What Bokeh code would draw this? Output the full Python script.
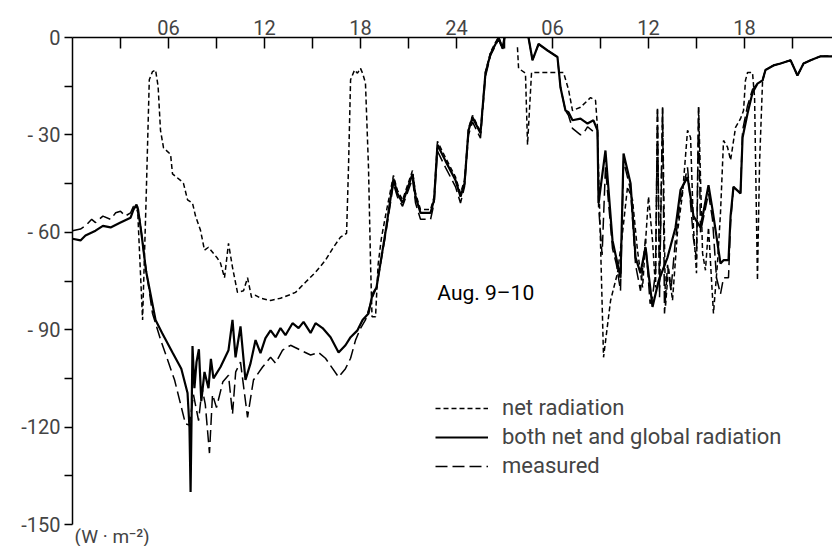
import math
from bokeh.plotting import figure
from bokeh.models import FixedTicker, LinearAxis, Label, Legend, LegendItem, Range1d, Title
from bokeh.embed import file_html
from bokeh.resources import INLINE

NAN = float("nan")

# ---- data (hours from 00 on Aug. 9, W m^-2) ----
both_t = [0, 0.5, 0.81, 1.44, 1.9, 2.38, 3.0, 3.63, 3.81, 4.0, 4.1, 4.3, 4.6, 5.19, 5.6, 6.25, 6.8,
          7.19, 7.31, 7.38, 7.5, 7.62, 7.75, 7.9, 8.05, 8.25, 8.5, 8.65, 8.81, 9.25, 9.75, 10.0,
          10.19, 10.5, 10.81, 11.13, 11.44, 11.75, 12.06, 12.38, 12.69, 13.0, 13.31, 13.75, 14.13,
          14.44, 14.88, 15.19, 15.63, 16.13, 16.63, 17.06, 17.38, 17.81, 18.13, 18.5, 18.75, 19.0,
          19.56, 20.06, 20.3, 20.63, 21.25, 21.44, 21.75, 22.38, 22.6, 22.81, 23.31, 23.94, 24.25,
          24.5, 24.75, 25.0, 25.5, 25.81, 26.13, 26.44, 26.63, 26.88, 27.0,
          27.5,
          28.5, 28.75, 29.13, 29.69, 30.0, 30.31, 30.5, 30.81, 31.0, 31.25, 31.75, 32.19, 32.56,
          32.81, 32.88, 33.31, 33.75, 34.25, 34.44, 34.88, 35.19, 35.5, 35.81, 36.25, 36.63, 37.19,
          37.69, 38.0, 38.44, 38.81, 39.25, 39.75, 40.0, 40.5, 40.69, 41.0, 41.13, 41.31, 41.75,
          41.88, 42.19, 42.5, 42.81, 43.13, 43.31, 43.81, 44.25, 44.88, 45.31, 45.69, 46.13, 46.75, 47.5]
both_v = [-62, -62.5, -61, -59.5, -58, -58.5, -57, -55.5, -53, -51.5, -53, -60, -72, -87, -91, -97, -102,
          -109.5, -120, -140, -95, -108, -100, -96, -112, -103, -108, -99, -105, -101.5, -96.3, -87,
          -98.5, -89, -105.5, -100.3, -93.2, -97.2, -92.6, -90.2, -92.3, -89.5, -91.7, -88, -89.5,
          -87.6, -91, -88, -89.5, -92.3, -97, -94.8, -92.3, -90.2, -87, -85, -79, -77,
          -60, -43.5, -48, -51, -42, -49, -54, -54, -50, -33, -38, -44, -49,
          -45, -28.6, -24.6, -29.5, -11, -5, -2, 0, -3.4, 0,
          NAN,
          0, -7, -2, -4, -5, -6, -15.4, -22.5, -23, -25.5, -25, -26.5, -25.5,
          -28.6, -51, -34.8, -62.5, -74, -35.7, -45, -67.7, -72.6, -64.6, -83, -75, -67.7,
          -58.5, -47, -43, -55, -58.5, -45.5, -53, -69.6, -68.6, -68.6, -55, -46, -48,
          -30.8, -23.4, -17, -14.2, -13.2, -10, -8.6, -8, -7, -11.7, -8, -7, -5.8, -5.8]

net_t = [4.06, 4.38, 4.6, 4.8, 4.88, 5.0, 5.19, 5.35, 5.5, 5.69, 6.13, 6.25, 6.75, 6.94, 7.19, 7.5,
         7.69, 8.0, 8.25, 8.5, 9.06, 9.25, 9.5, 9.75, 10.0, 10.31, 10.69, 10.94, 11.19, 11.44, 11.75,
         12.38, 13.0, 13.5, 13.94, 14.56, 15.19, 15.81, 16.31, 16.75, 17.13, 17.25, 17.38, 17.63,
         17.81, 18.0, 18.13, 18.31, 18.5, 18.63, 18.72, 18.94, 19.1, 19.3, 19.56, 20.06, 20.3, 20.63,
         21.25, 21.44, 21.75, 22.38, 22.6, 22.81, 23.31, 23.94, 24.25, 24.5, 24.75, 25.0, 25.5,
         25.81, 26.13, 26.44, 26.63, 26.88, 27.0,
         27.4,
         27.81, 27.88, 28.31, 28.44, 28.69, 30.69, 31.0, 31.25, 31.75, 32.38, 32.69, 32.81, 33.19,
         33.63, 34.06, 34.38, 34.69, 35.0, 35.31, 35.63, 36.0, 36.25, 36.44, 36.56, 36.69, 36.88,
         37.06, 37.25, 37.5, 37.81, 38.13, 38.44, 38.63, 38.81, 39.0, 39.13, 39.38, 39.56, 39.75,
         40.06, 40.31, 40.5, 40.69, 40.94, 41.13, 41.44, 41.75, 41.94, 42.06, 42.19, 42.5, 42.63,
         42.81, 42.94, 43.13, 43.31, 43.81, 44.25, 44.88, 45.31, 45.69, 46.13, 46.75, 47.5]
net_v = [-52, -87, -50, -13, -12, -10.5, -10, -15, -28.6, -34, -36, -42, -44, -45, -50, -51,
         -55, -59.4, -65.5, -64.6, -68, -69.5, -74, -63.4, -70.8, -78.5, -78, -74, -80, -79.4, -80.3,
         -81, -80.3, -79.4, -78.5, -75.4, -72.3, -68.6, -64.6, -61.5, -60.3, -40, -13, -10,
         -11, -9.5, -11, -14, -40, -70, -86, -86, -70, -62, -55, -42.5, -47, -50,
         -41, -48, -53, -53, -49, -32, -37, -43, -48, -44, -28, -24, -29,
         -10.5, -4.5, -1.5, 0, -3, 0,
         NAN,
         -3, -9.5, -11, -33, -10.8, -10.8, -16, -22.5, -21.5, -18.5, -19.4, -27.7, -98.5,
         -81, -72.6, -60, -46, -50, -65.5, -77, -49, -62.5, -77, -21.5, -77, -21.5,
         -83, -70.8, -81, -60, -48, -28.6, -30.8, -58.5, -72.6, -21.5, -66.5, -71.7, -58.5,
         -85, -69.6, -54, -31.7, -33.8, -37.8, -27.7, -25, -22.5, -13.2, -10.8, -10.8, -18.5,
         -74.8, -38.8, -13.2, -10, -8.6, -8, -7, -11.7, -8, -7, -5.8, -5.8]

meas_t = [0, 0.5, 0.81, 1.2, 1.44, 1.9, 2.38, 2.7, 3.0, 3.3, 3.63, 3.81, 4.0, 4.2, 4.5, 5.0, 5.5,
          6.38, 7.06, 7.31, 7.56, 7.88, 8.1, 8.3, 8.56, 8.75, 9.0, 9.4, 9.75, 10.0, 10.2, 10.5,
          10.94, 11.31, 11.88, 12.38, 12.69, 13.13, 13.63, 14.25, 14.88, 15.38, 15.81, 16.63, 17.06,
          17.38, 17.69, 18.0, 18.31, 18.75, 19.0, 19.56, 20.06, 20.3, 20.63, 21.25, 21.44, 21.75,
          22.38, 22.6, 22.81, 23.31, 23.94, 24.25, 24.5, 24.75, 25.0, 25.5, 25.81, 26.13, 26.44,
          26.63, 26.88, 27.0,
          27.5,
          28.5, 28.75, 29.13, 29.69, 30.0, 30.31, 30.5, 30.81, 31.0, 31.25, 31.75, 32.0, 32.19,
          32.56, 32.81, 32.88, 33.1, 33.31, 33.75, 34.0, 34.25, 34.44, 34.88, 35.19, 35.5, 35.81,
          36.1, 36.25, 36.44, 36.56, 36.69, 36.88, 37.0, 37.19, 37.4, 37.69, 38.0, 38.44, 38.81,
          39.0, 39.13, 39.25, 39.75, 40.0, 40.25, 40.5, 40.69, 41.0, 41.13, 41.31, 41.75, 41.88,
          42.19, 42.5, 42.81, 43.13, 43.31, 43.81, 44.25, 44.88, 45.31, 45.69, 46.13, 46.75, 47.5]
meas_v = [-59.5, -59, -58, -56, -57, -55, -56, -54, -53.5, -55, -54, -52, -52.5, -56, -68, -85, -93,
          -105.5, -119, -119.4, -110, -118, -108, -113, -128, -110, -114, -106, -104, -116, -103, -100,
          -117, -105.5, -101.5, -98.5, -100.3, -96.3, -94.8, -96.3, -97.8, -97, -98.8, -104.6, -102,
          -98.8, -93.2, -89.6, -87, -80, -77, -61, -45, -49, -52, -43.5, -51, -56,
          -56, -51, -35, -40, -46, -51, -46, -30, -26, -31, -12, -5.5, -2.5,
          -0.5, -3.8, 0,
          NAN,
          0, -7, -2, -4, -5, -6, -15.4, -22.5, -24, -28, -30, -29, -27.5,
          -29, -28, -52, -67, -40, -65, -70, -78, -38, -47, -70, -78, -62,
          -82, -80, -72, -21.5, -80, -21.5, -85, -70, -78, -62, -50, -40, -62,
          -68, -21.5, -60, -48, -56, -74, -79, -74, -74, -57, -46, -48, -28.6,
          -21, -16, -14.2, -13.2, -10, -8.6, -8, -7, -11.7, -8, -7, -5.8, -5.8]

x_ticks = [3, 6, 9, 12, 15, 18, 21, 24, 27, 30, 33, 36, 39, 42, 45]
x_labels = {6: "06", 12: "12", 18: "18", 24: "24", 30: "06", 36: "12", 42: "18"}
y_ticks = [0, -30, -60, -90, -120, -150]
y_minor = [-15, -45, -75, -105, -135]
y_labels = {0: "0", -30: "- 30", -60: "- 60", -90: "- 90", -120: "-120", -150: "-150"}

FONT = "Roboto"

p = figure(frame_width=760, frame_height=487, output_backend="svg", toolbar_location=None,
           x_range=Range1d(0, 47.5), y_range=Range1d(-150, 0),
           x_axis_location=None, y_axis_location=None,
           min_border_left=72, min_border_right=0, min_border_top=37, min_border_bottom=0)
p.outline_line_color = None
p.xgrid.visible = False
p.ygrid.visible = False
p.background_fill_color = "white"

r_net = p.line(net_t, net_v, line_color="black", line_width=1.5, line_dash="5 3")
r_both = p.line(both_t, both_v, line_color="black", line_width=2.2)
r_meas = p.line(meas_t, meas_v, line_color="black", line_width=1.5, line_dash="12 5")

yax = LinearAxis(ticker=FixedTicker(ticks=y_ticks, minor_ticks=y_minor))
yax.major_label_overrides = {k: v for k, v in y_labels.items()}
yax.major_tick_in = 0
yax.major_tick_out = 8
yax.minor_tick_in = 0
yax.minor_tick_out = 8
yax.axis_line_width = 1.5
yax.major_tick_line_width = 1.5
yax.minor_tick_line_width = 1.5
yax.major_label_text_font = FONT
yax.major_label_text_font_size = "20px"
yax.major_label_standoff = 4
p.add_layout(yax, "left")

xax = LinearAxis(ticker=FixedTicker(ticks=x_ticks, minor_ticks=[]))
xax.major_label_overrides = {t: x_labels.get(t, "") for t in x_ticks}
xax.major_tick_in = 11
xax.major_tick_out = 0
xax.axis_line_width = 1.5
xax.major_tick_line_width = 1.5
xax.major_label_text_font = FONT
xax.major_label_text_font_size = "20px"
xax.major_label_standoff = 3
p.add_layout(xax, "above")

p.add_layout(Label(x=22.8, y=-82.5, text="Aug. 9\u201310", text_font=FONT,
                   text_font_size="21px", text_color="black"))

unit = Title(text="(W \u00b7 m\u207b\u00b2)", align="left", text_font=FONT,
             text_font_size="19px", text_font_style="normal", text_line_height=0.6,
             vertical_align="top", standoff=0, offset=2)
p.add_layout(unit, "below")

legend = Legend(items=[LegendItem(label="net radiation", renderers=[r_net]),
                       LegendItem(label="both net and global radiation", renderers=[r_both]),
                       LegendItem(label="measured", renderers=[r_meas])],
                location=(363, 46), padding=0, margin=0, spacing=4,
                glyph_width=53, glyph_height=22, label_height=22, label_standoff=14,
                label_text_font=FONT, label_text_font_size="22px",
                border_line_color=None, background_fill_alpha=0)
p.add_layout(legend)

open("out.html", "w").write(file_html(p, INLINE))
